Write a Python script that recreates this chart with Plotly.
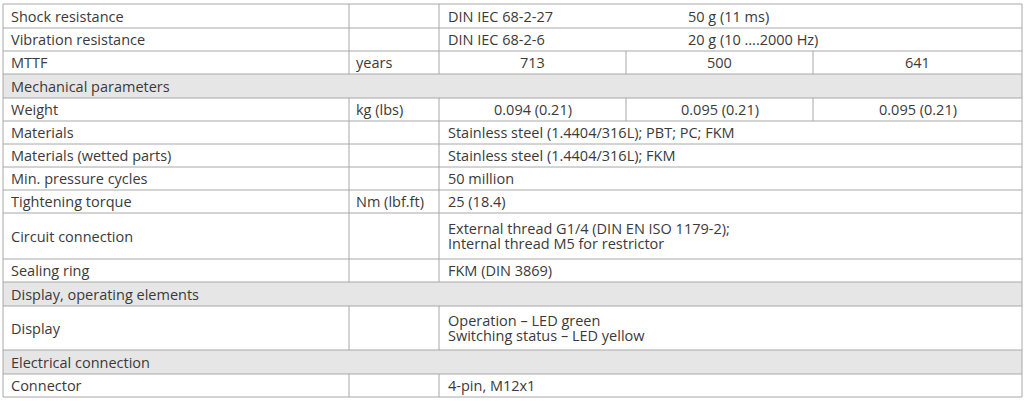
import plotly.graph_objects as go

# ---- data ----
labels = ["Shock resistance", "Vibration resistance", "MTTF", "Mechanical parameters",
          "Weight", "Materials", "Materials (wetted parts)", "Min. pressure cycles",
          "Tightening torque", "Circuit connection", "Sealing ring",
          "Display, operating elements", "Display", "Electrical connection", "Connector"]
units = ["", "", "years", None, "kg (lbs)", "", "", "", "Nm (lbf.ft)", "", "", None, "", None, ""]
standards = ["DIN IEC 68-2-27", "DIN IEC 68-2-6"]
std_values = ["50 g (11 ms)", "20 g (10 ….2000 Hz)"]
mttf_years = ["713", "500", "641"]
weights = ["0.094 (0.21)", "0.095 (0.21)", "0.095 (0.21)"]
spanned = {5: ["Stainless steel (1.4404/316L); PBT; PC; FKM"],
           6: ["Stainless steel (1.4404/316L); FKM"],
           7: ["50 million"],
           8: ["25 (18.4)"],
           9: ["External thread G1/4 (DIN EN ISO 1179-2);", "Internal thread M5 for restrictor"],
           10: ["FKM (DIN 3869)"],
           12: ["Operation – LED green", "Switching status – LED yellow"],
           14: ["4-pin, M12x1"]}

# ---- layout geometry ----
row_edges = [4, 28, 51, 74, 98, 121, 144, 167, 190, 213, 259, 282, 306, 350, 374, 397]
col_edges = [3, 349, 439, 626, 813, 1022]
LC = "#a8a8a8"
TC = "#3a3a3a"
FONT = "Open Sans"
FS = 14.5
LINE_H = 15.5

shapes, ann = [], []
def line(x0, y0, x1, y1):
    shapes.append(dict(type="line", x0=x0, y0=y0, x1=x1, y1=y1, line=dict(color=LC, width=1)))
def text(x, y, t, anchor="left"):
    ann.append(dict(x=x, y=y, text=t, showarrow=False, xanchor=anchor, yanchor="middle",
                    align="left", font=dict(family=FONT, size=FS, color=TC)))

L, R = col_edges[0], col_edges[-1]
for i, lab in enumerate(labels):
    y0, y1 = row_edges[i], row_edges[i + 1]
    ym = (y0 + y1) / 2
    if units[i] is None:
        shapes.append(dict(type="rect", x0=L, x1=R, y0=y0, y1=y1, fillcolor="#e6e6e6",
                           line=dict(width=0), layer="below"))
        text(L + 6, ym, lab)
        continue
    text(L + 6, ym, lab)
    line(col_edges[1], y0, col_edges[1], y1)
    line(col_edges[2], y0, col_edges[2], y1)
    if units[i]:
        text(col_edges[1] + 5, ym, units[i])
    if i < 2:
        text(col_edges[2] + 7, ym, standards[i])
        text(686, ym, std_values[i])
    elif i == 2 or i == 4:
        vals = mttf_years if i == 2 else weights
        for k, v in enumerate(vals):
            xa, xb = col_edges[2 + k], col_edges[3 + k]
            if k > 0:
                line(xa, y0, xa, y1)
            text((xa + xb) / 2, ym, v, "center")
    else:
        lines = spanned[i]
        n = len(lines)
        for j, t in enumerate(lines):
            text(col_edges[2] + 7, ym + (j - (n - 1) / 2) * LINE_H, t)

for y in row_edges:
    line(L, y, R, y)
line(L, row_edges[0], L, row_edges[-1])
line(R, row_edges[0], R, row_edges[-1])

fig = go.Figure()
fig.update_layout(width=1029, height=401, margin=dict(l=0, r=0, t=0, b=0),
                  paper_bgcolor="white", plot_bgcolor="white",
                  xaxis=dict(range=[0, 1029], visible=False, fixedrange=True),
                  yaxis=dict(range=[401, 0], visible=False, fixedrange=True),
                  shapes=shapes, annotations=ann, showlegend=False)
fig.write_html("out.html", config={"displayModeBar": False},
               post_script="document.body.style.margin='0';document.body.style.overflow='hidden';")
